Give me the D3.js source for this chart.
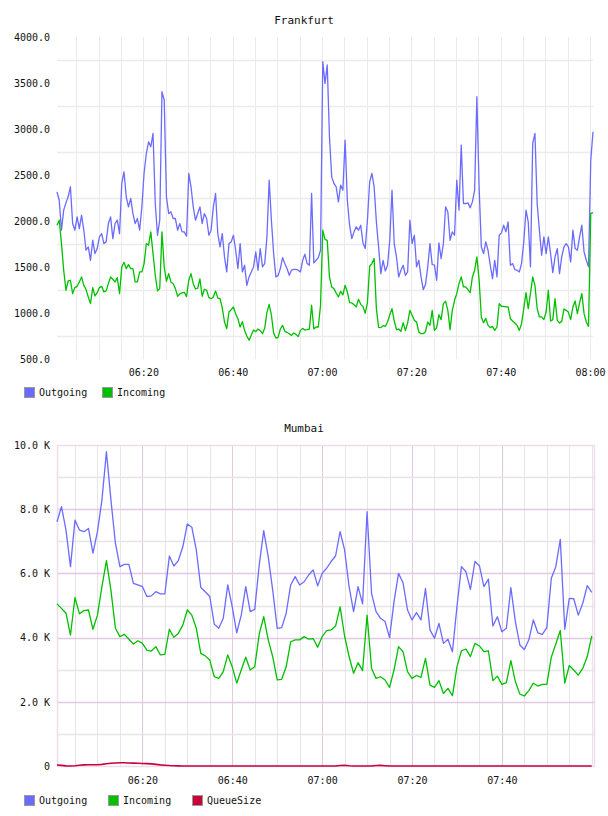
<!DOCTYPE html>
<html>
<head>
<meta charset="utf-8">
<script src="https://cdn.jsdelivr.net/npm/d3@7"></script>
<style>
  body { margin: 0; background: #fff; }
  text { font-family: "DejaVu Sans Mono", monospace; fill: #111; }
</style>
</head>
<body>
<div id="chart"></div>
<script>
// Frankfurt: one sample every 30 s from 06:00:40
const frankOut = [
  2317,2226,1900,2118,2197,2263,2372,1972,1900,2045,
  1918,2063,1900,1682,1718,1573,1791,1646,1700,1827,
  1863,1755,1773,1972,2045,1809,1972,2009,1863,2408,
  2535,2263,2154,2245,2081,1972,2027,1900,2154,2524,
  2734,2861,2807,2952,2190,1845,2009,3405,3315,2263,
  2081,2099,2027,2027,1900,1972,1882,1882,1835,2517,
  2372,2154,2009,2081,2154,1972,2081,2027,1845,1900,
  2154,2299,1863,1718,1863,1610,1446,1755,1773,1845,
  1682,1483,
  1755,1446,1519,1301,1392,1446,1501,1664,1465,1700,
  1501,1537,1827,2444,2009,1646,1392,1406,1483,1602,
  1537,1483,1410,1465,1475,1475,1465,1446,1573,1639,
  1537,1519,2299,1544,1573,1602,1682,3732,3496,3696,
  2916,2480,2408,2372,2208,2390,2335,2879,2226,1954,
  1809,1882,1936,1900,1954,1762,1700,2009,2426,2517,
  2372,1991,1718,1428,1573,1457,1519,1791,2335,1755,
  1610,1392,1465,1519,1410,1446,2009,1755,1845,1501,
  1573,
  1392,1254,1309,1501,1755,1526,1523,1356,1762,1591,
  1755,2154,2099,1791,1882,1845,2444,2118,2825,2190,
  2190,2197,2143,2208,2335,3351,2372,1718,1646,1773,
  1682,1519,1374,1573,1392,1845,1871,1954,1882,1991,
  1519,1537,1472,1465,1446,1537,1773,2118,1991,1501,
  2843,2952,2190,1900,1628,1827,1646,1827,1646,1439,
  1610,1700,1428,1610,1718,1755,1718,1555,1900,1700,
  1682,1827,1954,1664,1573,1501,2662,2970
];
const frankIn = [
  1954,2009,1755,1465,1247,1348,1356,1211,1276,1290,
  1338,1392,1301,1254,1174,1102,1276,1185,1221,1276,
  1290,1229,1240,1319,1392,1367,1338,1385,1211,1501,
  1552,1483,1526,1483,1483,1338,1338,1446,1446,1537,
  1755,1737,1882,1646,1410,1240,1265,1882,1501,1345,
  1428,1338,1319,1265,1182,1207,1218,1225,1178,1356,
  1428,1319,1261,1269,1370,1182,1258,1247,1167,1156,
  1174,1240,1163,1156,1055,902,830,1011,1036,1066,
  993,938,
  848,906,811,750,703,761,815,797,826,808,
  775,833,1007,1094,978,782,728,735,826,866,
  801,790,775,757,782,768,743,811,833,815,
  819,826,1084,826,848,848,1084,1900,1800,1790,
  1392,1283,1265,1218,1174,1236,1196,1301,1229,1113,
  1109,1091,1066,1149,1094,1069,997,1113,1508,1537,
  1591,1047,844,841,862,855,902,982,1047,913,
  819,826,801,895,808,891,1029,975,920,902,
  793,
  775,775,797,902,866,1029,811,841,982,928,
  1102,1127,1029,819,1029,1138,1211,1319,1392,1283,
  1283,1254,1221,1392,1465,1610,1363,957,895,942,
  866,841,855,811,848,1102,1073,1073,1066,1066,
  938,913,891,866,811,884,1047,1221,1047,1211,
  1392,1301,1047,957,957,928,1011,1247,913,928,
  1156,920,891,909,1044,1029,1007,928,1066,1131,
  993,1113,1211,993,902,855,2081,2092
];

// Mumbai: one sample per minute from 06:01
const mumOut = [
  7610,8080,7350,6210,7660,7350,7300,7400,6630,7300,
  8290,9790,8290,6940,6210,6280,6280,5690,5640,5590,
  5280,5300,5430,5360,5360,6540,6230,6400,6830,7540,
  7440,6730,5560,5430,5280,4420,4290,4600,5640,4960,
  4150,4700,5590,4810,4880,6260,7330,6520,5480,4290,
  4310,4760,5640,5900,5640,5740,5950,6110,5610,6000,
  6160,6370,6550,7300,6730,5590,4810,5590,5050,7920,
  5380,4810,4600,4500,4000,5120,6000,5710,4860,4550,
  4780,4550,5530,4240,3980,4440,3820,3950,3560,4960,
  6210,6050,5500,6370,6240,5590,5820,4360,4650,4180,
  4290,5560,4500,3770,3630,3930,4550,4150,4100,4310,
  5850,6210,7060,4260,5220,5210,4700,5070,5620,5410
];
const mumIn = [
  5050,4910,4760,4080,5250,4740,4840,4860,4260,4700,
  5590,6400,5480,4290,4030,4100,3950,3800,3900,3820,
  3610,3580,3720,3460,3480,4260,4010,4130,4390,4860,
  4700,4290,3510,3430,3300,2780,2730,2940,3460,3090,
  2580,2990,3390,2990,3090,4110,4650,3930,3410,2680,
  2700,3090,3870,3930,3930,4030,3950,3970,3700,4030,
  4220,4240,4360,4960,4050,3410,2890,3220,2970,4700,
  3040,2730,2780,2680,2450,2990,3720,3560,2940,2730,
  2820,2760,3350,2520,2450,2660,2260,2420,2190,3090,
  3590,3640,3410,3820,3740,3560,3590,2660,2800,2540,
  2600,3280,2630,2240,2180,2350,2580,2490,2540,2540,
  3390,3800,4220,2580,3130,2990,2830,3040,3410,4050
];
const mumQueue = [
  30,20,5,0,10,25,35,40,40,40,
  50,70,85,95,100,100,95,90,85,80,
  75,65,50,35,25,15,10,5,0,0,
  0,0,0,0,0,0,0,0,0,0,
  0,0,0,0,0,0,0,0,0,0,
  0,0,0,0,0,0,0,0,0,0,
  0,0,0,15,25,10,0,0,0,0,
  0,15,20,10,0,0,0,0,0,0,
  0,0,0,0,0,0,0,0,0,0,
  0,0,0,0,0,0,0,0,0,0,
  0,0,0,0,0,0,0,0,0,0,
  0,0,0,0,0,0,0,0,0,0
];

const frankTicks = [500, 1000, 1500, 2000, 2500, 3000, 3500, 4000];
const mumTicks = [0, 2000, 4000, 6000, 8000, 10000];
const frankTimeLabels = ['06:20', '06:40', '07:00', '07:20', '07:40', '08:00'];
const mumTimeLabels = ['06:20', '06:40', '07:00', '07:20', '07:40'];
const seriesNames = ['Outgoing', 'Incoming', 'QueueSize'];
const seriesColors = ['#6b6bff', '#00c000', '#c8003c'];

const svg = d3.select('#chart').append('svg')
  .attr('width', 608)
  .attr('height', 816);

const day = (h, m, s) => new Date(2020, 0, 1, h, m, s || 0);
const toDate = label => day(+label.slice(0, 2), +label.slice(3, 5));

function drawChart(cfg) {
  const x = d3.scaleTime().domain(cfg.xDomain).range([cfg.left, cfg.right]);
  const y = d3.scaleLinear().domain(cfg.yDomain).range([cfg.bottom, cfg.top]);
  const g = svg.append('g');

  // vertical grid, every 5 minutes
  const fiveMin = x.ticks(d3.timeMinute.every(5));
  const majors = cfg.timeLabels.map(toDate).map(d => +d);
  g.append('g')
    .selectAll('line')
    .data(fiveMin)
    .join('line')
      .attr('x1', d => Math.round(x(d)) + 0.5)
      .attr('x2', d => Math.round(x(d)) + 0.5)
      .attr('y1', cfg.top)
      .attr('y2', cfg.bottom)
      .attr('stroke', d => cfg.framed && majors.includes(+d) ? cfg.majorColor : cfg.minorColor)
      .attr('stroke-width', 1);

  // horizontal grid
  g.append('g')
    .selectAll('line')
    .data(cfg.hGrid)
    .join('line')
      .attr('x1', cfg.left)
      .attr('x2', cfg.right)
      .attr('y1', d => Math.round(y(d)) + 0.5)
      .attr('y2', d => Math.round(y(d)) + 0.5)
      .attr('stroke', d => cfg.framed && cfg.yTicks.includes(d) ? cfg.majorColor : cfg.minorColor)
      .attr('stroke-width', 1.3);

  if (cfg.framed) {
    g.append('rect')
      .attr('x', cfg.left + 0.5)
      .attr('y', cfg.top + 0.5)
      .attr('width', cfg.right - cfg.left)
      .attr('height', cfg.bottom - cfg.top)
      .attr('fill', 'none')
      .attr('stroke', '#ecdcec')
      .attr('stroke-width', 1.5);
  }

  // lines
  cfg.series.forEach((values, i) => {
    const line = d3.line()
      .x((d, j) => x(d3.timeSecond.offset(cfg.xDomain[0], cfg.startOffset + j * cfg.step)))
      .y(d => y(d));
    g.append('path')
      .datum(values)
      .attr('fill', 'none')
      .attr('stroke', seriesColors[i])
      .attr('stroke-width', i === 2 ? 1.6 : 1.3)
      .attr('stroke-linejoin', 'round')
      .attr('d', line);
  });

  // y axis labels
  const yAxis = g.append('g')
    .attr('transform', `translate(${cfg.left},0)`)
    .call(d3.axisLeft(y).tickValues(cfg.yTicks).tickFormat(cfg.yFormat).tickSize(0).tickPadding(7));
  yAxis.select('.domain').remove();
  yAxis.selectAll('text')
    .attr('font-size', 10)
    .attr('font-family', '"DejaVu Sans Mono", monospace')
    .attr('fill', '#111');

  // x axis labels
  const xAxis = g.append('g')
    .attr('transform', `translate(0,${cfg.bottom})`)
    .call(d3.axisBottom(x).tickValues(cfg.timeLabels.map(toDate)).tickFormat(d3.timeFormat('%H:%M')).tickSize(0).tickPadding(cfg.xPad));
  xAxis.select('.domain').remove();
  xAxis.selectAll('text')
    .attr('font-size', 10)
    .attr('font-family', '"DejaVu Sans Mono", monospace')
    .attr('fill', '#111');

  // title
  g.append('text')
    .attr('x', 304)
    .attr('y', cfg.titleY)
    .attr('text-anchor', 'middle')
    .attr('font-size', 11)
    .text(cfg.title);

  // legend
  const legend = g.append('g')
    .attr('transform', `translate(0,${cfg.legendY})`);
  cfg.series.forEach((v, i) => {
    const lx = cfg.legendX[i];
    legend.append('rect')
      .attr('x', lx + 0.5)
      .attr('y', 0.5)
      .attr('width', 10)
      .attr('height', 10)
      .attr('fill', seriesColors[i])
      .attr('stroke', '#999')
      .attr('stroke-width', 1);
    legend.append('text')
      .attr('x', lx + 15)
      .attr('y', 9)
      .attr('font-size', 10)
      .text(seriesNames[i]);
  });
}

drawChart({
  title: 'Frankfurt',
  titleY: 24,
  series: [frankOut, frankIn],
  xDomain: [day(6, 0, 40), day(8, 0, 40)],
  startOffset: 0,
  step: 30,
  yDomain: [500, 4000],
  yTicks: frankTicks,
  yFormat: d3.format('.1f'),
  hGrid: [750, 1250, 1750, 2250, 2750, 3250, 3750],
  timeLabels: frankTimeLabels,
  left: 57, right: 593, top: 37, bottom: 359,
  xPad: 10,
  framed: false,
  minorColor: '#ebebeb',
  majorColor: '#ebebeb',
  legendY: 387,
  legendX: [24, 102]
});

drawChart({
  title: 'Mumbai',
  titleY: 432,
  series: [mumOut, mumIn, mumQueue],
  xDomain: [day(6, 1, 0), day(8, 0, 30)],
  startOffset: 0,
  step: 60,
  yDomain: [0, 10000],
  yTicks: mumTicks,
  yFormat: v => v === 0 ? '0' : (v / 1000).toFixed(1) + ' K',
  hGrid: [1000, 2000, 3000, 4000, 5000, 6000, 7000, 8000, 9000],
  timeLabels: mumTimeLabels,
  left: 57, right: 594, top: 445, bottom: 766,
  xPad: 11,
  framed: true,
  minorColor: '#e8e4e8',
  majorColor: '#e2c8e2',
  legendY: 795,
  legendX: [24, 108, 192]
});
</script>
</body>
</html>
